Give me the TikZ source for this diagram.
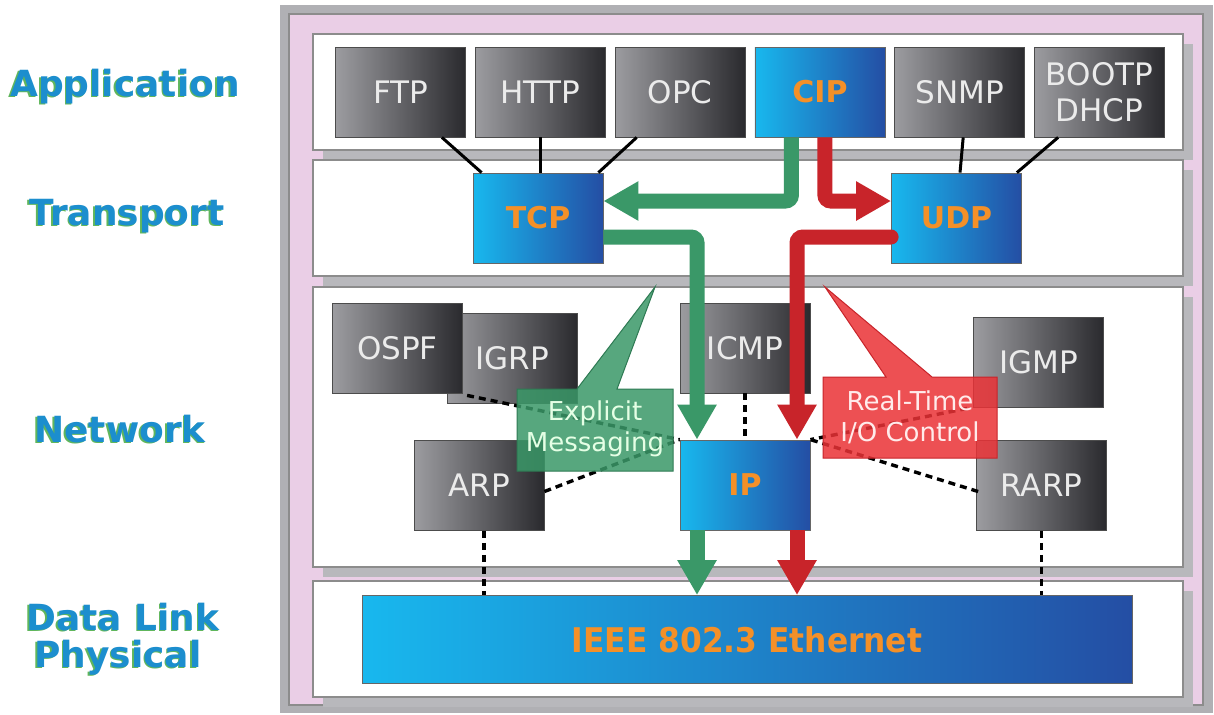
\documentclass[tikz,border=0pt]{standalone}
\usepackage{fontspec}
\setmainfont{DejaVu Sans}
\newfontfamily\ethfont[FakeStretch=0.92]{DejaVu Sans}
\usetikzlibrary{arrows.meta,positioning,calc}

\definecolor{layerBlue}{RGB}{28,142,206}
\definecolor{layerGreen}{RGB}{96,182,92}
\definecolor{frameGray}{RGB}{176,176,180}
\definecolor{framePink}{RGB}{234,206,230}
\definecolor{panelShadow}{RGB}{184,184,188}
\definecolor{boxLight}{RGB}{156,156,160}
\definecolor{boxDark}{RGB}{42,42,46}
\definecolor{protoCyan}{RGB}{24,184,238}
\definecolor{protoBlue}{RGB}{36,78,164}
\definecolor{protoOrange}{RGB}{244,144,40}
\definecolor{msgGreen}{RGB}{58,152,104}
\definecolor{ioRed}{RGB}{200,36,42}
\definecolor{ioRedLight}{RGB}{234,50,54}

\tikzset{
  graybox/.style={draw=black!70, left color=boxLight, right color=boxDark,
    minimum width=65pt, minimum height=45pt, inner sep=0pt, align=center,
    text=black!8, font=\fontsize{15.5}{18}\selectfont},
  bluebox/.style={draw=black!60, left color=protoCyan, right color=protoBlue,
    minimum width=65pt, minimum height=45pt, inner sep=0pt,
    text=protoOrange, font=\fontsize{15}{18}\selectfont\bfseries},
  layerlabel/.style={anchor=base, font=\fontsize{18}{21}\selectfont\bfseries},
  calloutText/.style={align=center, font=\fontsize{13}{15.5}\selectfont},
  link/.style={line width=1.5pt},
  dotlink/.style={line width=1.7pt, dash pattern=on 3.5pt off 2.5pt},
  flowgreen/.style={draw=msgGreen, line width=7.5pt, rounded corners=3pt,
    -{Triangle[width=18.5pt,length=17.5pt]}},
  flowred/.style={draw=ioRed, line width=7.5pt, rounded corners=3pt,
    -{Triangle[width=18.5pt,length=17.5pt]}}
}

\begin{document}
\begin{tikzpicture}[x=0.5pt, y=-0.5pt]
  \useasboundingbox (0,0) rectangle (1214,714);

  % layer names
  \foreach \lname/\ltext/\lx/\ly in {app/Application/125/96, trans/Transport/127/225, net/Network/120/442, dlink/Data Link/123/630, phys/Physical/118/667} {
    \node[layerlabel, text=layerGreen] (\lname-glow) at (\lx-1.5,\ly+1.5) {\ltext};
    \node[layerlabel, text=layerBlue] (\lname) at (\lx,\ly) {\ltext};
  }

  % frame and layer panels
  \fill[frameGray] (280,5) rectangle (1213,713);
  \filldraw[fill=framePink, draw=black!45, line width=0.6pt] (289,14) rectangle (1203,705);
  \foreach \ya/\yb in {34/150, 160/276, 287/567, 581/697} {
    \fill[panelShadow] (323,\ya+10) rectangle (1193,\yb+10);
    \filldraw[fill=white, draw=black!45, line width=0.6pt] (313,\ya) rectangle (1183,\yb);
  }

  % application
  \node[graybox] (ftp) at (400.5,92) {FTP};
  \node[graybox, right=4.5pt of ftp] (http) {HTTP};
  \node[graybox, right=4.5pt of http] (opc) {OPC};
  \node[bluebox, right=4.5pt of opc] (cip) {CIP};
  \node[graybox, right=4.5pt of cip] (snmp) {SNMP};
  \node[graybox, right=4.5pt of snmp] (bootp) {BOOTP\\DHCP};

  % transport
  \node[bluebox] (tcp) at (538,218) {TCP};
  \node[bluebox] (udp) at (956.5,218) {UDP};

  % network
  \node[graybox] (igrp) at (512.5,358) {IGRP};
  \node[graybox] (ospf) at (397.5,348) {OSPF};
  \node[graybox] (arp) at (479,485.5) {ARP};
  \node[graybox] (icmp) at (745,348) {ICMP};
  \node[bluebox] (ip) at (745,485) {IP};
  \node[graybox] (igmp) at (1038.5,362) {IGMP};
  \node[graybox] (rarp) at (1041.5,485.5) {RARP};

  % data link
  \node[draw=black!60, left color=protoCyan, right color=protoBlue,
    minimum width=385pt, minimum height=44pt, inner sep=0pt,
    text=protoOrange, font=\ethfont\fontsize{17}{20}\selectfont\bfseries] (eth) at (747,639.5) {IEEE 802.3 Ethernet};

  % solid links
  \draw[link] ($(ftp.south east)+(-24,0)$) -- ($(tcp.north west)+(9,0)$);
  \draw[link] (http.south) -- (http.south |- tcp.north);
  \draw[link] ($(opc.south west)+(22,0)$) -- ($(tcp.north east)+(-5,0)$);
  \draw[link] ($(snmp.south)+(3.5,0)$) -- ($(udp.north)+(3.5,0)$);
  \draw[link] ($(bootp.south west)+(24,0)$) -- ($(udp.north east)+(-5,0)$);

  % dotted links
  \draw[dotlink] ($(igrp.south west)+(20,-8)$) -- (ip.north west);
  \draw[dotlink] ($(arp.east)+(0,6)$) -- (ip.north west);
  \draw[dotlink] (icmp.south) -- (ip.north);
  \draw[dotlink] ($(igmp.south west)+(-6,1)$) -- (ip.north east);
  \draw[dotlink] ($(rarp.west)+(2,6)$) -- (ip.north east);
  \draw[dotlink] ($(arp.south)+(5,0)$) -- ($(arp.south |- eth.north)+(5,0)$);
  \draw[dotlink] (rarp.south) -- (rarp.south |- eth.north);

  % explicit messaging path
  \draw[flowgreen] ($(cip.south)+(-28.5,0)$) |- ($(tcp.east)+(0,-17)$);
  \draw[flowgreen] ($(tcp.east)+(0,19)$) -| ($(ip.north)+(-48,0)$);
  \draw[flowgreen] ($(ip.south)+(-48,0)$) -- ($(ip.south |- eth.north)+(-48,0)$);

  % real-time path
  \draw[flowred] ($(cip.south)+(5,0)$) |- ($(udp.west)+(0,-17)$);
  \draw[flowred, line cap=round] ($(udp.west)+(0,19)$) -| ($(ip.north)+(52,0)$);
  \draw[flowred] ($(ip.south)+(52,0)$) -- ($(ip.south |- eth.north)+(52,0)$);

  % callouts
  \filldraw[fill=msgGreen, fill opacity=0.85, draw=msgGreen!80!black, line width=0.5pt]
    (517,389) -- (577,389) -- (655,287) -- (617,389) -- (673,389) -- (673,471) -- (517,471) -- cycle;
  \node[calloutText, text=green!10!white] (explicit) at (595,429) {Explicit\\Messaging};
  \filldraw[fill=ioRedLight, fill opacity=0.85, draw=ioRed, line width=0.5pt]
    (823,377) -- (886,377) -- (825,287) -- (932,377) -- (997,377) -- (997,458) -- (823,458) -- cycle;
  \node[calloutText, text=red!8!white] (realtime) at (910,417) {Real-Time\\I/O Control};
\end{tikzpicture}
\end{document}
